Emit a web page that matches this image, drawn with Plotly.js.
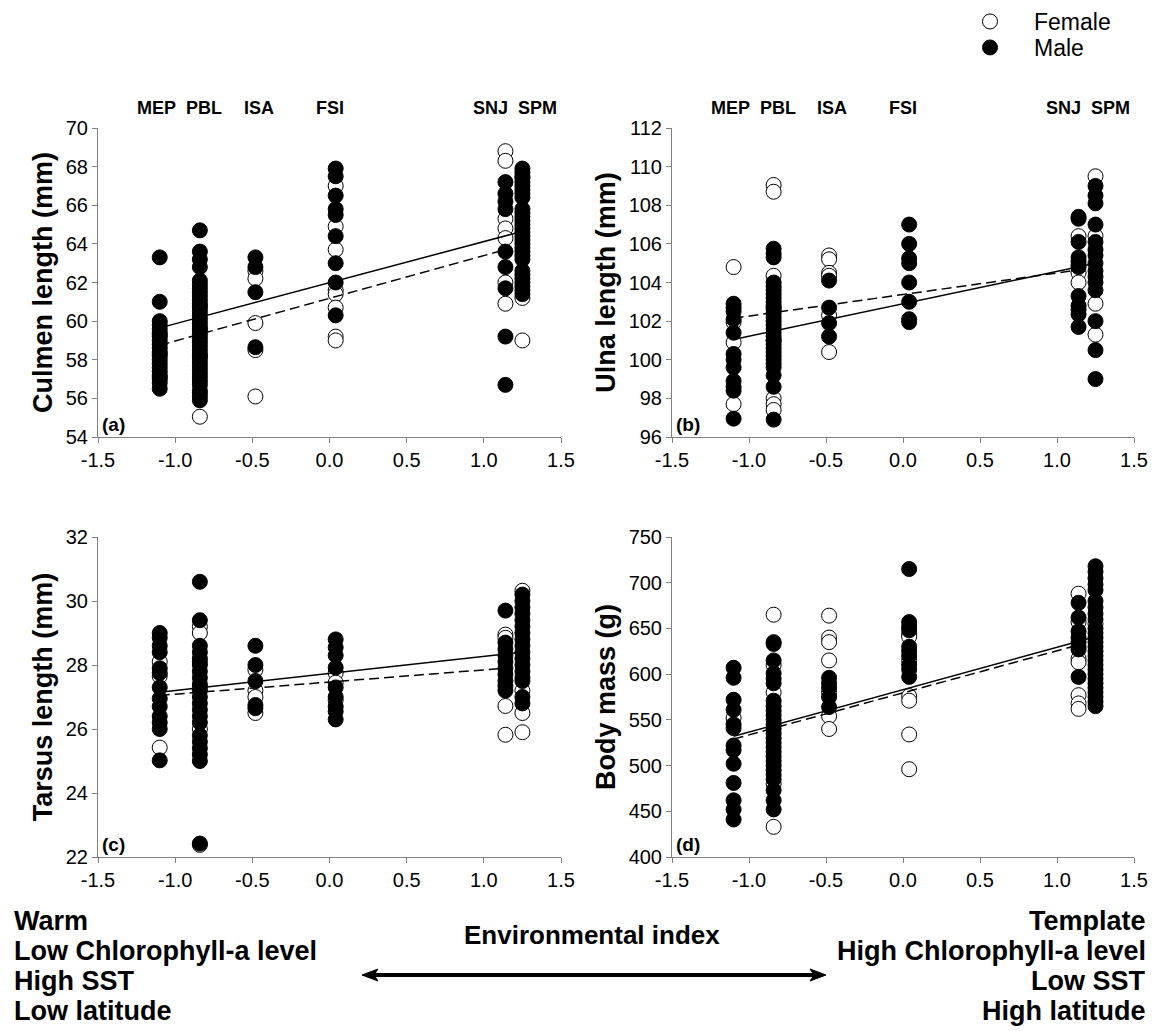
<!DOCTYPE html>
<html>
<head>
<meta charset="utf-8">
<script src="https://cdn.plot.ly/plotly-3.0.1.min.js"></script>
<style>html,body{margin:0;padding:0;background:#fff;}#chart{width:1156px;height:1031px;}</style>
</head>
<body>
<div id="chart"></div>
<script>
// ---------------- DATA ----------------
const siteNames = ['MEP', 'PBL', 'ISA', 'FSI', 'SNJ', 'SPM'];
const siteX = [-1.10, -0.84, -0.48, 0.04, 1.14, 1.25];
const xTickVals = [-1.5, -1.0, -0.5, 0.0, 0.5, 1.0, 1.5];
const xTickText = ['-1.5', '-1.0', '-0.5', '0.0', '0.5', '1.0', '1.5'];

// Culmen length (mm), one list per site (MEP, PBL, ISA, FSI, SNJ, SPM)
const culmenMale = [
  [63.3, 61.0, 60.0, 59.8, 59.6, 59.4, 59.2, 59.0, 58.8, 58.6, 58.4, 58.2, 58.0, 57.8, 57.6, 57.4, 57.2, 57.0, 56.8, 56.5],
  [64.7, 63.6, 63.2, 62.8, 62.1, 61.9, 61.7, 61.5, 61.3, 61.1, 60.9, 60.7, 60.5, 60.3, 60.1, 59.9, 59.7, 59.5, 59.3, 59.1, 58.9, 58.7, 58.5, 58.3, 58.1, 57.9, 57.7, 57.5, 57.3, 57.1, 56.9, 56.7, 56.3, 56.1, 55.9],
  [63.3, 62.8, 61.5, 58.65],
  [67.9, 67.5, 66.5, 65.8, 65.5, 64.4, 63.0, 62.0, 60.3],
  [67.2, 66.6, 66.2, 65.8, 63.6, 62.8, 61.7, 59.2, 56.7],
  [67.9, 67.7, 67.5, 67.2, 67.0, 66.8, 66.6, 66.4, 65.8, 65.6, 65.4, 65.2, 65.0, 64.8, 64.6, 64.4, 64.2, 64.0, 63.8, 63.6, 63.4, 63.2, 62.6, 62.4, 62.2, 62.0, 61.8, 61.6, 61.4]
];
const culmenFemale = [
  [59.3, 58.3, 57.1],
  [60.8, 59.6, 58.2, 56.4, 55.05],
  [62.6, 62.2, 59.9, 58.5, 56.1],
  [67.0, 64.9, 63.7, 61.6, 61.4, 60.7, 59.2, 59.0],
  [68.8, 68.3, 65.3, 64.8, 64.3, 62.0, 60.9],
  [67.4, 61.2, 59.0]
];

// Ulna length (mm)
const ulnaMale = [
  [102.9, 102.7, 102.5, 102.1, 101.4, 100.3, 100.0, 99.6, 98.9, 98.6, 98.4, 96.95],
  [105.75, 105.5, 105.3, 104.0, 103.8, 103.6, 103.4, 103.2, 103.0, 102.8, 102.6, 102.4, 102.2, 102.0, 101.8, 101.6, 101.4, 101.2, 101.0, 100.8, 100.6, 100.4, 100.2, 100.0, 99.8, 99.6, 99.2, 98.6, 96.9],
  [104.1, 102.7, 101.9, 101.2],
  [107.0, 106.0, 105.25, 105.0, 104.0, 103.0, 102.1, 101.95],
  [107.4, 107.3, 106.1, 105.3, 105.1, 104.9, 104.8, 103.3, 102.8, 102.6, 102.35, 101.7],
  [109.0, 108.5, 108.1, 107.0, 106.1, 105.7, 105.4, 105.0, 104.6, 104.3, 104.0, 103.6, 102.0, 100.5, 99.0]
];
const ulnaFemale = [
  [104.8, 101.95, 100.9, 97.7],
  [109.05, 108.7, 104.35, 102.7, 101.0, 98.0, 97.7, 97.4],
  [105.4, 105.2, 104.5, 104.35, 102.3, 100.4],
  [],
  [106.4, 104.5, 104.0],
  [109.5, 106.4, 102.9, 101.3]
];

// Tarsus length (mm)
const tarsusMale = [
  [29.0, 28.85, 28.6, 28.4, 27.9, 27.75, 27.3, 26.95, 26.7, 26.4, 26.2, 26.0, 25.02],
  [30.6, 29.4, 28.6, 28.4, 28.2, 28.0, 27.8, 27.6, 27.4, 27.2, 27.0, 26.8, 26.6, 26.4, 26.2, 25.8, 25.6, 25.4, 25.2, 25.0, 22.42],
  [28.6, 28.0, 27.5, 26.75, 26.65],
  [28.8, 28.55, 28.3, 27.92, 27.3, 27.0, 26.7, 26.55, 26.3],
  [29.7, 28.7, 28.5, 28.3, 28.1, 27.9, 27.7, 27.5, 27.35, 27.2],
  [30.2, 30.0, 29.8, 29.6, 29.4, 29.2, 29.0, 28.8, 28.6, 28.4, 28.2, 28.0, 27.8, 27.6, 27.5, 27.0, 26.8]
];
const tarsusFemale = [
  [28.1, 27.65, 25.42],
  [29.2, 29.0, 28.1, 27.3, 26.0, 22.38],
  [27.85, 27.2, 27.0, 26.5],
  [27.75, 27.45, 26.9],
  [28.95, 28.85, 26.72, 25.82],
  [30.32, 27.2, 26.5, 25.9]
];

// Body mass (g)
const massMale = [
  [607, 596, 572, 561, 545, 541, 522, 517, 502, 481, 462, 452, 441],
  [635, 633, 615, 601, 595, 590, 571, 565, 560, 555, 550, 545, 540, 535, 530, 525, 520, 515, 510, 505, 500, 495, 490, 485, 473, 462, 452],
  [596, 590, 585, 575, 564],
  [715, 657, 652, 648, 630, 625, 620, 610, 605, 597],
  [678, 662, 647, 640, 635, 630, 627, 597],
  [718, 712, 705, 698, 692, 680, 673, 666, 660, 650, 645, 640, 635, 630, 625, 620, 615, 610, 605, 600, 595, 590, 585, 580, 575, 570, 565]
];
const massFemale = [
  [552],
  [665, 610, 580, 480, 433],
  [664, 640, 635, 615, 580, 554, 540],
  [643, 641, 615, 576, 571, 534, 496],
  [688, 657, 617, 613, 577, 568, 562],
  [655]
];

// Regression lines (end points)
const solidFitX = [-1.10, 1.25];
const dashedFitX = [-1.10, 1.14];
const culmenSolidFit = [59.65, 64.65];
const culmenDashedFit = [58.75, 63.7];
const ulnaSolidFit = [101.05, 105.0];
const ulnaDashedFit = [102.15, 104.65];
const tarsusSolidFit = [27.15, 28.4];
const tarsusDashedFit = [27.05, 27.9];
const massSolidFit = [532, 641];
const massDashedFit = [529, 632];

const yTitles = ['Culmen length (mm)', 'Ulna length (mm)', 'Tarsus length (mm)', 'Body mass (g)'];
const panelLetters = ['(a)', '(b)', '(c)', '(d)'];
const yRanges = [[54, 70], [96, 112], [22, 32], [400, 750]];
const yDticks = [2, 2, 2, 50];

const leftTexts = ['Warm', 'Low Chlorophyll-a level', 'High SST', 'Low latitude'];
const rightTexts = ['Template', 'High Chlorophyll-a level', 'Low SST', 'High latitude'];
const xTitle = 'Environmental index';
const legendNames = ['Female', 'Male'];

// ---------------- BUILD ----------------
const FONT = 'Liberation Sans, Arial, Helvetica, sans-serif';
const W = 1156, H = 1031;
const px = v => v / W;
const py = v => 1 - v / H;
// where the site names sit above the top panels (label placement only)
const siteLabelX = [-1.12, -0.81, -0.46, 0.0, 1.04, 1.35];

function expand(groups) {
  const x = [], y = [];
  groups.forEach((g, i) => g.forEach(v => { x.push(siteX[i]); y.push(v); }));
  return { x, y };
}

const panels = [
  { male: culmenMale, female: culmenFemale, solid: culmenSolidFit, dashed: culmenDashedFit },
  { male: ulnaMale, female: ulnaFemale, solid: ulnaSolidFit, dashed: ulnaDashedFit },
  { male: tarsusMale, female: tarsusFemale, solid: tarsusSolidFit, dashed: tarsusDashedFit },
  { male: massMale, female: massFemale, solid: massSolidFit, dashed: massDashedFit }
];

const traces = [];
panels.forEach((p, i) => {
  const xa = i === 0 ? 'x' : 'x' + (i + 1);
  const ya = i === 0 ? 'y' : 'y' + (i + 1);
  const m = expand(p.male), f = expand(p.female);
  traces.push({
    type: 'scatter', mode: 'markers', x: f.x, y: f.y, xaxis: xa, yaxis: ya,
    name: legendNames[0], showlegend: i === 0, legend: 'legend',
    marker: { symbol: 'circle', size: 15, color: '#fff', line: { color: '#000', width: 1 } },
    cliponaxis: false
  });
  traces.push({
    type: 'scatter', mode: 'markers', x: m.x, y: m.y, xaxis: xa, yaxis: ya,
    name: legendNames[1], showlegend: i === 0, legend: 'legend2',
    marker: { symbol: 'circle', size: 15, color: '#000', line: { color: '#000', width: 1 } },
    cliponaxis: false
  });
  traces.push({
    type: 'scatter', mode: 'lines', x: solidFitX, y: p.solid, xaxis: xa, yaxis: ya,
    line: { color: '#000', width: 1.5 }, showlegend: false, hoverinfo: 'skip'
  });
  traces.push({
    type: 'scatter', mode: 'lines', x: dashedFitX, y: p.dashed, xaxis: xa, yaxis: ya,
    line: { color: '#000', width: 1.5, dash: '10px,5px' }, showlegend: false, hoverinfo: 'skip'
  });
});

const xDomL = [px(98), px(561)], xDomR = [px(672), px(1134)];
const yDomT = [py(437), py(128)], yDomB = [py(857), py(537)];

function xaxis(dom, anchor) {
  return {
    domain: dom, anchor: anchor, range: [-1.5, 1.5], tickvals: xTickVals, ticktext: xTickText,
    showline: true, linecolor: '#808080', linewidth: 1, ticks: 'outside', ticklen: 5, tickcolor: '#808080',
    showgrid: false, zeroline: false, tickfont: { family: FONT, size: 20, color: '#000' }, fixedrange: true
  };
}
function yaxis(i, dom, anchor) {
  return {
    domain: dom, anchor: anchor, range: yRanges[i], dtick: yDticks[i], tick0: yRanges[i][0],
    showline: true, linecolor: '#808080', linewidth: 1, ticks: 'outside', ticklen: 5, tickcolor: '#808080',
    showgrid: false, zeroline: false, tickfont: { family: FONT, size: 20, color: '#000' },
    title: { text: yTitles[i], font: { family: FONT, size: 27, color: '#000', weight: 'bold' }, standoff: 5 },
    fixedrange: true
  };
}

const annotations = [];
// site labels above top panels
['x', 'x2'].forEach(xr => {
  siteNames.forEach((s, i) => {
    annotations.push({
      xref: xr, yref: 'paper', x: siteLabelX[i], y: py(108), text: '<b>' + s + '</b>', showarrow: false,
      font: { family: FONT, size: 18, color: '#000' }, xanchor: 'center', yanchor: 'middle'
    });
  });
});
// panel letters
['x', 'x2', 'x3', 'x4'].forEach((xr, i) => {
  const yr = i === 0 ? 'y' : 'y' + (i + 1);
  annotations.push({
    xref: xr + ' domain', yref: yr + ' domain', x: 0.005, y: 0.0, text: '<b>' + panelLetters[i] + '</b>',
    showarrow: false, xanchor: 'left', yanchor: 'bottom', font: { family: FONT, size: 19, color: '#000' }
  });
});
// bottom texts
const rowsY = [921, 951, 981, 1011];
leftTexts.forEach((t, i) => annotations.push({
  xref: 'paper', yref: 'paper', x: px(12), y: py(rowsY[i]), text: '<b>' + t + '</b>', showarrow: false,
  xanchor: 'left', yanchor: 'middle', font: { family: FONT, size: 27, color: '#000' }
}));
rightTexts.forEach((t, i) => annotations.push({
  xref: 'paper', yref: 'paper', x: px(1148), y: py(rowsY[i]), text: '<b>' + t + '</b>', showarrow: false,
  xanchor: 'right', yanchor: 'middle', font: { family: FONT, size: 27, color: '#000' }
}));
annotations.push({
  xref: 'paper', yref: 'paper', x: px(592), y: py(935), text: '<b>' + xTitle + '</b>', showarrow: false,
  xanchor: 'center', yanchor: 'middle', font: { family: FONT, size: 26, color: '#000' }
});

// double-headed arrow
const ax0 = 362, ax1 = 826, ay = 975, ah = 16, aw = 6;
const shapes = [
  { type: 'line', xref: 'paper', yref: 'paper', x0: px(ax0 + 8), x1: px(ax1 - 8), y0: py(ay), y1: py(ay), line: { color: '#000', width: 4 } },
  { type: 'path', xref: 'paper', yref: 'paper', fillcolor: '#000', line: { color: '#000', width: 1 },
    path: `M ${px(ax0)} ${py(ay)} L ${px(ax0 + ah)} ${py(ay - aw)} L ${px(ax0 + ah - 4)} ${py(ay)} L ${px(ax0 + ah)} ${py(ay + aw)} Z` },
  { type: 'path', xref: 'paper', yref: 'paper', fillcolor: '#000', line: { color: '#000', width: 1 },
    path: `M ${px(ax1)} ${py(ay)} L ${px(ax1 - ah)} ${py(ay - aw)} L ${px(ax1 - ah + 4)} ${py(ay)} L ${px(ax1 - ah)} ${py(ay + aw)} Z` }
];

const legendStyle = (topPx) => ({
  x: px(946), y: py(topPx), xanchor: 'left', yanchor: 'top', bgcolor: 'rgba(0,0,0,0)',
  font: { family: FONT, size: 23, color: '#000' }, itemwidth: 78
});

const layout = {
  width: W, height: H, margin: { l: 0, r: 0, t: 0, b: 0 },
  paper_bgcolor: '#fff', plot_bgcolor: '#fff',
  font: { family: FONT, color: '#000' },
  showlegend: true,
  legend: legendStyle(0),
  legend2: legendStyle(26),
  xaxis: xaxis(xDomL, 'y'), yaxis: yaxis(0, yDomT, 'x'),
  xaxis2: xaxis(xDomR, 'y2'), yaxis2: yaxis(1, yDomT, 'x2'),
  xaxis3: xaxis(xDomL, 'y3'), yaxis3: yaxis(2, yDomB, 'x3'),
  xaxis4: xaxis(xDomR, 'y4'), yaxis4: yaxis(3, yDomB, 'x4'),
  annotations: annotations, shapes: shapes
};

Plotly.newPlot('chart', traces, layout, { displayModeBar: false, staticPlot: true });
</script>
</body>
</html>
